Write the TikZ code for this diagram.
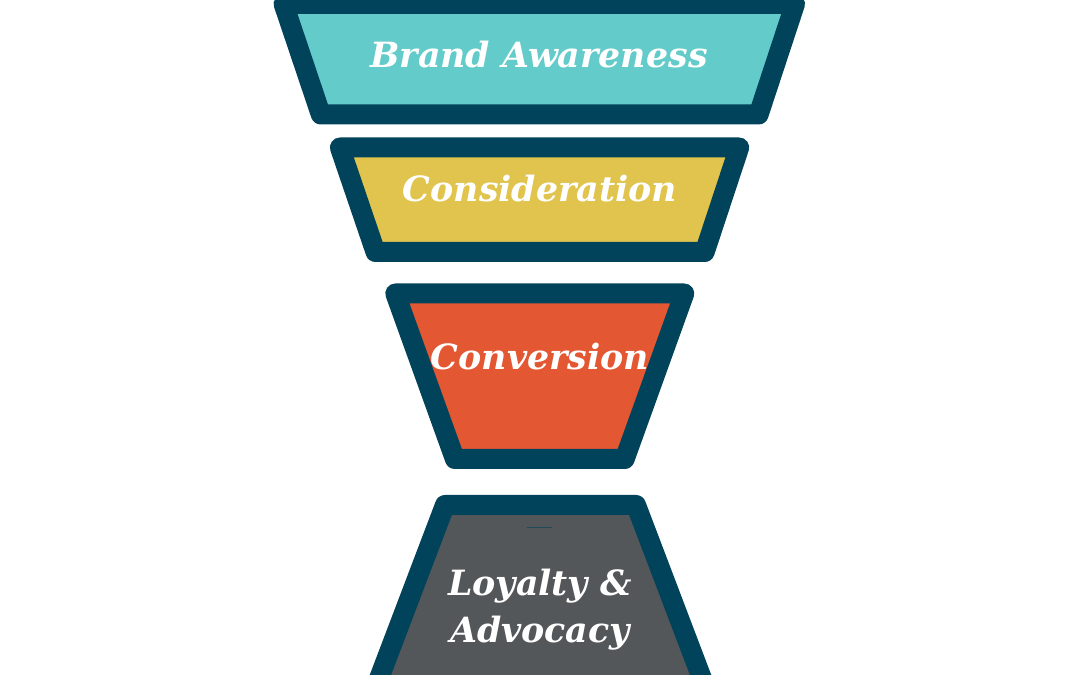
\documentclass[tikz,border=0pt]{standalone}
\usepackage{fontspec}
\setmainfont{DejaVu Serif}
\usepackage{tikz}
\usetikzlibrary{positioning}
\usepackage{xcolor}
\definecolor{funnelblue}{RGB}{0,67,90}
\definecolor{awareteal}{RGB}{99,203,201}
\definecolor{considyellow}{RGB}{225,196,77}
\definecolor{convorange}{RGB}{227,88,50}
\definecolor{loyalgray}{RGB}{84,87,89}

\begin{document}
\begin{tikzpicture}[x=0.1mm, y=-0.1mm,
    stage/.style={draw=funnelblue, line width=2mm, line join=round},
    txt/.style={font=\fontsize{9.9}{13.6}\selectfont\bfseries\itshape, text=white, align=center, inner sep=0pt}]
  \fill[white] (0,0) rectangle (1080,675);
  \clip (0,0) rectangle (1080,675);
  % funnel stages
  \draw[stage, fill=awareteal] (283.6,4) -- (795,4) -- (758.6,114.5) -- (320.8,114.5) -- cycle;
  \draw[stage, fill=considyellow] (339.9,147.5) -- (739.2,147.5) -- (704.7,252) -- (375.5,252) -- cycle;
  \draw[stage, fill=convorange] (395.3,293.5) -- (684.3,293.5) -- (624.7,459) -- (454.9,459) -- cycle;
  \draw[stage, fill=loyalgray] (445,505) -- (636,505) -- (717.7,720) -- (363.3,720) -- cycle;
  \draw[funnelblue!60!loyalgray, line width=0.1mm] (527,528) -- (552,528);
  % stage names
  \node[txt, anchor=base] (aware) at (539,68) {Brand Awareness};
  \node[txt, anchor=base] (consid) at (540,201.5) {Consideration};
  \node[txt, anchor=base] (conv) at (540,370) {Conversion};
  \node[txt, anchor=base] (loyal) at (540,643) {Loyalty \&\\Advocacy};
\end{tikzpicture}
\end{document}
